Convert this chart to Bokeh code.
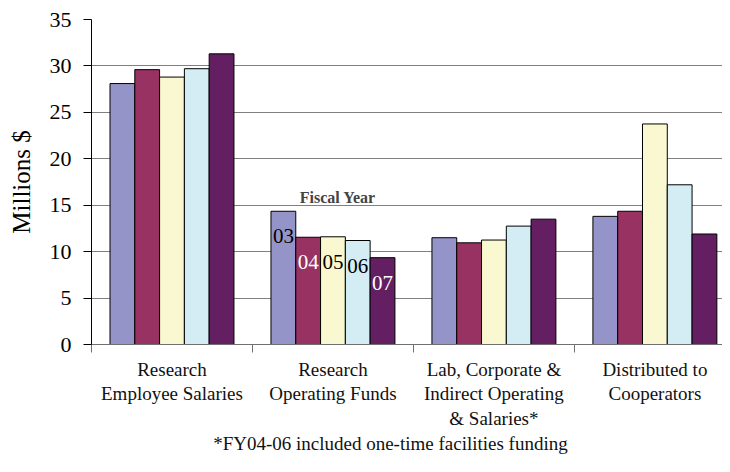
from bokeh.plotting import figure
from bokeh.models import ColumnDataSource, Range1d, FixedTicker, Label, LinearAxis
from bokeh.transform import dodge
from bokeh.core.properties import value
from bokeh.embed import file_html
from bokeh.resources import INLINE

# ---- data ----
categories = ["Research\nEmployee Salaries", "Research\nOperating Funds",
              "Lab, Corporate &\nIndirect Operating\n& Salaries*", "Distributed to\nCooperators"]
cat_pos = [0.5, 1.5, 2.5, 3.5]
years = ["03", "04", "05", "06", "07"]
fy03 = [28.1, 14.35, 11.5, 13.8]
fy04 = [29.6, 11.55, 10.95, 14.35]
fy05 = [28.8, 11.6, 11.25, 23.75]
fy06 = [29.7, 11.2, 12.75, 17.2]
fy07 = [31.3, 9.35, 13.5, 11.9]
y_ticks = [0, 5, 10, 15, 20, 25, 30, 35]
footnote = "*FY04-06 included one-time facilities funding"
footnote_pos = 1.857

colors = ["#9494C8", "#973263", "#FAF8D0", "#D4ECF4", "#631F61"]
label_colors = ["black", "white", "black", "black", "white"]
series = [fy03, fy04, fy05, fy06, fy07]

FONT = "Liberation Serif"
bar_w = 0.154

src = ColumnDataSource(dict(x=cat_pos, **{f"fy{y}": s for y, s in zip(years, series)}))

p = figure(width=722, height=456, output_backend="svg", toolbar_location=None,
           x_range=Range1d(0, 3.92), y_range=Range1d(0, 35),
           min_border_left=91, min_border_right=0, min_border_top=19, min_border_bottom=112)
p.outline_line_color = None
p.background_fill_color = "white"

offsets = [(i - 2) * bar_w for i in range(5)]
for i, y in enumerate(years):
    p.vbar(x=dodge("x", offsets[i]), top=f"fy{y}", width=bar_w, source=src,
           fill_color=colors[i], line_color="black", line_width=1)

# in-bar year labels for the second group (acts as legend)
lab_x = [cat_pos[1] + o for o in offsets]
lab_y = [s[1] for s in series]
p.text(x=lab_x, y=lab_y, text=years, text_color=label_colors,
       text_font=value(FONT), text_font_size="21px", text_align="center",
       text_baseline="middle", y_offset=25)
p.add_layout(Label(x=cat_pos[1] + 0.03, y=15.8, text="Fiscal Year", text_font=FONT,
                   text_font_size="16px", text_font_style="bold", text_align="center",
                   text_baseline="middle"))

# grid
p.xgrid.grid_line_color = None
p.ygrid.ticker = FixedTicker(ticks=y_ticks)
p.ygrid.grid_line_color = "#808080"
p.ygrid.grid_line_width = 1

# y axis
p.yaxis.ticker = FixedTicker(ticks=y_ticks)
p.yaxis.axis_label = "Millions $"
p.yaxis.axis_label_text_font = FONT
p.yaxis.axis_label_text_font_size = "25px"
p.yaxis.axis_label_text_font_style = "normal"
p.yaxis.axis_label_text_color = "black"
p.yaxis.axis_label_standoff = 12
p.yaxis.major_label_text_font = FONT
p.yaxis.major_label_text_font_size = "22px"
p.yaxis.major_label_text_color = "black"
p.yaxis.major_label_standoff = 12
p.yaxis.major_tick_out = 8
p.yaxis.major_tick_in = 0
p.yaxis.minor_tick_line_color = None
p.yaxis.axis_line_color = "black"
p.yaxis.major_tick_line_color = "black"

# x axis (categories)
xa = p.xaxis[0]
xa.ticker = FixedTicker(ticks=cat_pos, minor_ticks=[0, 1, 2, 3, 4])
xa.major_label_overrides = {k: v for k, v in zip(cat_pos, categories)}
xa.major_tick_out = 0
xa.major_tick_in = 0
xa.minor_tick_out = 8
xa.minor_tick_in = 0
xa.minor_tick_line_color = "#707070"
xa.axis_line_color = "#707070"
xa.major_label_text_font = FONT
xa.major_label_text_font_size = "19px"
xa.major_label_text_color = "#111111"
xa.major_label_text_line_height = 1.18
xa.major_label_standoff = 6

# footnote as a second, line-less axis below
fa = LinearAxis(ticker=FixedTicker(ticks=[footnote_pos], minor_ticks=[]),
                major_label_overrides={footnote_pos: footnote},
                axis_line_color=None, major_tick_line_color=None, minor_tick_line_color=None,
                major_tick_out=0, major_tick_in=0, minor_tick_out=0, minor_tick_in=0,
                major_label_standoff=0, major_label_text_font=FONT,
                major_label_text_line_height=1.0,
                major_label_text_font_size="19px", major_label_text_color="#111111")
p.add_layout(fa, "below")

open("out.html", "w").write(file_html(p, INLINE))
